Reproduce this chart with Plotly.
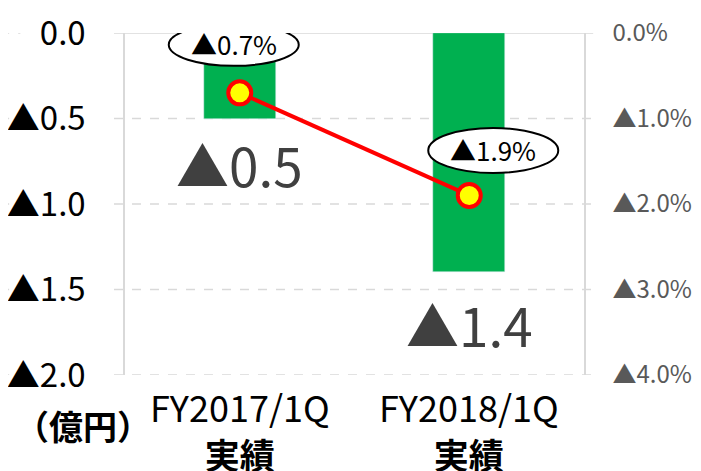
import plotly.graph_objects as go

categories = ["FY2017/1Q", "FY2018/1Q"]
cat_sub = ["実績", "実績"]
profit = [-0.5, -1.4]          # 億円
margin_pct = [-0.7, -1.9]      # %
left_ticks = [0.0, -0.5, -1.0, -1.5, -2.0]
left_ticktext = ["0.0", "▲0.5", "▲1.0", "▲1.5", "▲2.0"]
right_ticks = [0.0, -1.0, -2.0, -3.0, -4.0]
right_ticktext = ["0.0%", "▲1.0%", "▲2.0%", "▲3.0%", "▲4.0%"]
unit_label = "（億円）"

FONT = "Noto Sans CJK JP, DejaVu Sans Condensed, sans-serif"


def tri(v, suffix=""):
    return ("▲" if v < 0 else "") + f"{abs(v):.1f}" + suffix


fig = go.Figure()
fig.add_trace(go.Bar(
    x=categories, y=profit, marker_color="#00b050", width=0.314,
    hoverinfo="skip", yaxis="y"))
fig.add_trace(go.Scatter(
    x=categories, y=margin_pct, yaxis="y2", mode="lines+markers",
    line=dict(color="#ff0000", width=4),
    marker=dict(size=23, color="#ffff00", line=dict(color="#ff0000", width=4)),
    hoverinfo="skip"))

shapes = []
annotations = []

# gridlines (dashed, extending slightly beyond plot area)
for v in left_ticks:
    shapes.append(dict(type="line", xref="paper", yref="y", x0=-0.024, x1=1.02,
                       y0=v, y1=v, layer="below",
                       line=dict(color="#d9d9d9", width=1.5,
                                 dash="solid" if v == 0 else "dash")))
    shapes.append(dict(type="line", xref="paper", yref="y", x0=-0.272, x1=-0.228,
                       y0=v, y1=v, layer="below",
                       line=dict(color="#d9d9d9", width=1.5, dash="dash")))
# far right border artifact
shapes.append(dict(type="line", xref="paper", yref="paper", x0=1.2505, x1=1.2505,
                   y0=-0.15, y1=1.1, line=dict(color="#d9d9d9", width=1)))

# ellipse labels on line points
ell = [(-6, 48, 130, 42), (24, 45, 130, 45)]
for c, v, (dx, dy, w, h) in zip(categories, margin_pct, ell):
    shapes.append(dict(type="circle", xref="x", yref="y2",
                       xsizemode="pixel", ysizemode="pixel",
                       xanchor=c, yanchor=v,
                       x0=dx - w / 2, x1=dx + w / 2, y0=dy - h / 2, y1=dy + h / 2,
                       fillcolor="white", line=dict(color="black", width=2),
                       layer="above"))
    annotations.append(dict(x=c, y=v, xref="x", yref="y2", text=tri(v, "%"),
                            showarrow=False, xshift=dx, yshift=dy + 1,
                            font=dict(family=FONT, size=26, color="black")))

# bar value labels
bar_shift = [-45, -52]
for c, v, s in zip(categories, profit, bar_shift):
    annotations.append(dict(x=c, y=v, xref="x", yref="y", text=tri(v),
                            showarrow=False, yshift=s, yanchor="middle",
                            font=dict(family=FONT, size=53, color="#404040")))

# category labels (two lines)
for c, sub in zip(categories, cat_sub):
    annotations.append(dict(x=c, y=0, xref="x", yref="paper",
                            text=f"{c}<br><b><span style='font-size:35px'>{sub}</span></b>",
                            showarrow=False, yanchor="middle", yshift=-54,
                            font=dict(family=FONT, size=36, color="black")))

annotations.append(dict(x=0.061, y=0, xref="paper", yref="paper", text=f"<b>{unit_label}</b>",
                        showarrow=False, xanchor="right", yanchor="middle", yshift=-50,
                        font=dict(family=FONT, size=34, color="black")))

fig.update_layout(
    width=693, height=463,
    margin=dict(l=117, r=117, t=25, b=96),
    paper_bgcolor="white", plot_bgcolor="white",
    showlegend=False,
    bargap=0,
    xaxis=dict(type="category", showticklabels=False, showgrid=False, zeroline=False,
               showline=False, ticks="", fixedrange=True, automargin=False),
    yaxis=dict(range=[-2.0, 0.0], tickvals=left_ticks, ticktext=left_ticktext,
               showgrid=False, zeroline=False, showline=True, linecolor="#d9d9d9",
               linewidth=1.5, ticks="", ticklabelstandoff=31, automargin=False,
               ticklabeloverflow="allow",
               tickfont=dict(family=FONT, size=33, color="black")),
    yaxis2=dict(range=[-4.0, 0.0], tickvals=right_ticks, ticktext=right_ticktext,
                overlaying="y", side="right", showgrid=False, zeroline=False,
                showline=True, linecolor="#d9d9d9", linewidth=1.5, ticks="",
                ticklabelstandoff=22, automargin=False, ticklabeloverflow="allow",
                tickfont=dict(family=FONT, size=24, color="#595959")),
    shapes=shapes,
    annotations=annotations,
)

fig.write_html("out.html")
